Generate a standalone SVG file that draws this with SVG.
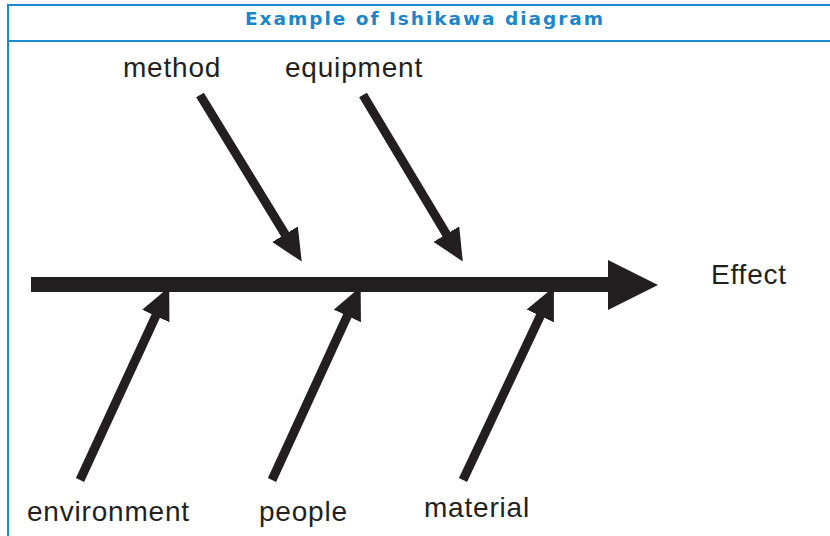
<svg xmlns="http://www.w3.org/2000/svg" width="830" height="536" viewBox="0 0 830 536">
  <style>
    .frame { stroke: #1b8bd0; stroke-width: 2; fill: none; }
    .title { font-family: "DejaVu Sans", Verdana, sans-serif; font-weight: bold; font-size: 18.5px; fill: #1b86c9; }
    .label { font-family: "Liberation Sans", Arial, sans-serif; font-size: 28px; letter-spacing: 0.8px; fill: #231f20; }
    .bone { stroke: #231f20; stroke-width: 9; fill: none; stroke-linecap: butt; }
    .spine { stroke: #231f20; stroke-width: 15; fill: none; }
  </style>
  <defs>
    <marker id="ah" viewBox="0 -15 32 30" refX="0.5" refY="0" markerWidth="32" markerHeight="30" markerUnits="userSpaceOnUse" orient="auto">
      <path d="M0,-15 L32,0 L0,15 z" fill="#231f20"/>
    </marker>
  </defs>
  <rect width="830" height="536" fill="#ffffff"/>
  <g id="frame">
    <line class="frame" x1="8" y1="4" x2="8" y2="536"/>
    <line class="frame" x1="7" y1="5" x2="830" y2="5"/>
    <line class="frame" x1="7" y1="41" x2="830" y2="41"/>
  </g>
  <g id="title">
    <text class="title" x="424" y="25" text-anchor="middle" textLength="358" lengthAdjust="spacing">Example of Ishikawa diagram</text>
  </g>
  <g id="connectors">
    <line class="bone" x1="200" y1="95" x2="285.3" y2="234.7" marker-end="url(#ah)"/>
    <line class="bone" x1="363" y1="95" x2="446.6" y2="234.5" marker-end="url(#ah)"/>
    <line class="bone" x1="80" y1="480" x2="156" y2="315.5" marker-end="url(#ah)"/>
    <line class="bone" x1="272" y1="480" x2="347.5" y2="315.5" marker-end="url(#ah)"/>
    <line class="bone" x1="463" y1="480" x2="540.5" y2="315.5" marker-end="url(#ah)"/>
    <line class="spine" x1="31" y1="284.5" x2="610" y2="284.5"/>
    <polygon points="608,260 658,285 608,310" fill="#231f20"/>
  </g>
  <g id="node-method"><text class="label" x="123" y="77">method</text></g>
  <g id="node-equipment"><text class="label" x="285" y="77">equipment</text></g>
  <g id="node-effect"><text class="label" x="711" y="284">Effect</text></g>
  <g id="node-environment"><text class="label" x="27" y="521">environment</text></g>
  <g id="node-people"><text class="label" x="259" y="521">people</text></g>
  <g id="node-material"><text class="label" x="424" y="517">material</text></g>
</svg>
